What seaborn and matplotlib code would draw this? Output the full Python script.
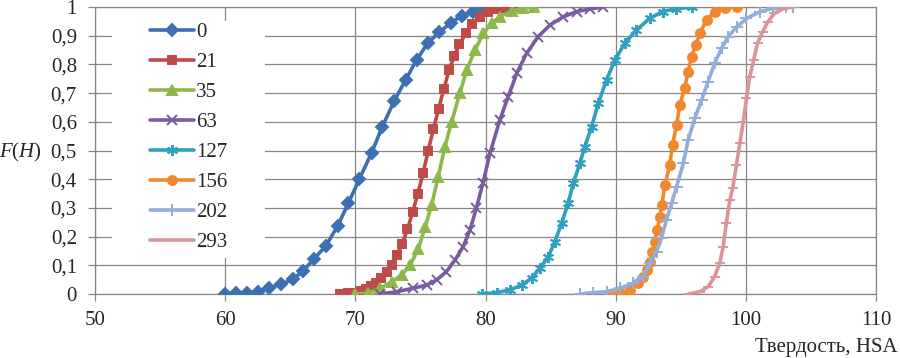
import matplotlib
matplotlib.use("Agg")
import matplotlib.pyplot as plt
import matplotlib.patches as mpatches
import seaborn as sns
import pandas as pd

# ---- data ----
series_names = ["0", "21", "35", "63", "127", "156", "202", "293"]

h_0 = [60.0, 60.8, 61.65, 62.5, 63.4, 64.3, 65.2, 66.0, 66.8, 67.74, 68.64, 69.46, 70.3, 71.25,
       72.07, 73.0, 73.86, 74.7, 75.55, 76.45, 77.34, 78.2, 79.06, 79.9, 80.8]
f_0 = [0.0, 0.002, 0.005, 0.008, 0.022, 0.034, 0.051, 0.081, 0.121, 0.168, 0.237, 0.316, 0.40, 0.492,
       0.583, 0.674, 0.746, 0.815, 0.874, 0.912, 0.945, 0.97, 0.984, 0.995, 1.0]

h_21 = [68.8, 69.4, 69.9, 70.4, 70.8, 71.2, 71.6, 72.0, 72.4, 72.8, 73.2, 73.6, 74.0, 74.4, 74.8,
        75.2, 75.6, 76.0, 76.4, 76.8, 77.2, 77.6, 78.0, 78.5, 79.0, 79.6, 80.2, 80.9, 81.6, 82.4]
f_21 = [0.0, 0.002, 0.005, 0.01, 0.018, 0.028, 0.04, 0.055, 0.075, 0.1, 0.135, 0.175, 0.225, 0.285, 0.35,
        0.42, 0.5, 0.575, 0.645, 0.715, 0.78, 0.83, 0.87, 0.91, 0.94, 0.965, 0.982, 0.993, 0.998, 1.0]

h_35 = [70.0, 71.0, 71.9, 72.8, 73.55, 74.2, 74.83, 75.35, 75.86, 76.37, 76.88, 77.4, 78.03, 78.55,
        79.19, 79.83, 80.47, 81.1, 82.0, 82.9, 83.7]
f_35 = [0.0, 0.003, 0.02, 0.043, 0.066, 0.10, 0.156, 0.232, 0.31, 0.409, 0.513, 0.60, 0.70, 0.78,
        0.85, 0.908, 0.943, 0.966, 0.986, 0.997, 1.0]

h_63 = [71.9, 73.17, 74.45, 75.48, 76.24, 77.0, 77.65, 78.29, 78.8, 79.3, 79.8, 80.34, 81.1, 81.74,
        82.4, 83.16, 84.05, 84.95, 85.97, 87.0, 88.0, 89.04]
f_63 = [0.0, 0.008, 0.02, 0.031, 0.049, 0.078, 0.118, 0.165, 0.223, 0.299, 0.386, 0.49, 0.606, 0.687,
        0.769, 0.839, 0.897, 0.937, 0.966, 0.984, 0.993, 1.0]

h_127 = [79.7, 80.85, 81.87, 82.77, 83.54, 84.18, 84.82, 85.33, 85.84, 86.35, 86.74, 87.25, 87.63,
         88.15, 88.66, 89.3, 89.94, 90.7, 91.6, 92.6, 93.6, 94.6, 95.9]
f_127 = [0.0, 0.005, 0.014, 0.031, 0.055, 0.09, 0.13, 0.182, 0.246, 0.316, 0.386, 0.455, 0.513,
         0.583, 0.664, 0.746, 0.815, 0.874, 0.92, 0.96, 0.984, 0.994, 1.0]

h_156 = [89.55, 90.3, 91.1, 91.73, 92.1, 92.37, 92.63, 92.83, 93.0, 93.2, 93.4, 93.55, 93.78, 94.16,
         94.37, 94.68, 94.93, 95.3, 95.57, 95.83, 96.16, 96.47, 96.98, 97.6, 98.4, 99.3]
f_156 = [0.0, 0.002, 0.014, 0.037, 0.06, 0.084, 0.113, 0.147, 0.182, 0.223, 0.27, 0.31, 0.38, 0.45,
         0.52, 0.589, 0.659, 0.717, 0.775, 0.827, 0.868, 0.908, 0.955, 0.984, 0.995, 1.0]

h_202 = [87.25, 88.27, 89.3, 90.32, 91.35, 92.1, 92.63, 93.14, 93.52, 93.9, 94.3, 94.68, 95.2, 95.57,
         96.08, 96.6, 97.1, 97.6, 98.14, 98.65, 99.3, 100.05, 101.1, 102.1, 103.1, 103.6]
f_202 = [0.0, 0.005, 0.008, 0.02, 0.037, 0.06, 0.107, 0.147, 0.194, 0.258, 0.316, 0.374, 0.455, 0.537,
         0.612, 0.676, 0.74, 0.804, 0.856, 0.897, 0.931, 0.96, 0.984, 0.995, 0.999, 1.0]

h_293 = [95.57, 96.47, 97.1, 97.6, 98.0, 98.26, 98.5, 98.77, 99.0, 99.28, 99.54, 99.8, 100.05, 100.3,
         100.6, 100.9, 101.3, 101.7, 102.2, 102.87, 103.6]
f_293 = [0.0, 0.008, 0.025, 0.06, 0.107, 0.165, 0.246, 0.327, 0.37, 0.45, 0.525, 0.60, 0.682, 0.757,
         0.815, 0.874, 0.914, 0.949, 0.978, 0.994, 1.0]

x_ticks = [50, 60, 70, 80, 90, 100, 110]
y_ticks = [0, 0.1, 0.2, 0.3, 0.4, 0.5, 0.6, 0.7, 0.8, 0.9, 1.0]
y_tick_labels = ["0", "0,1", "0,2", "0,3", "0,4", "0,5", "0,6", "0,7", "0,8", "0,9", "1"]

all_h = [h_0, h_21, h_35, h_63, h_127, h_156, h_202, h_293]
all_f = [f_0, f_21, f_35, f_63, f_127, f_156, f_202, f_293]

frames = []
for name, hs, fs in zip(series_names, all_h, all_f):
    frames.append(pd.DataFrame({"H": hs, "F": fs, "series": name}))
df = pd.concat(frames, ignore_index=True)

# ---- styles ----
colors = ["#3D6FB3", "#BE4B48", "#8FB84C", "#7A5C9E", "#2FA0BF", "#F0892E", "#94ADD9", "#D9959A"]
markers = ["D", "s", "^", "x", (6, 2, 0), "o", "+", "_"]
msizes = [6, 5.5, 7, 7, 8, 6.5, 8, 7]

sns.set_style("white")
plt.rcParams["font.family"] = ["Liberation Serif", "DejaVu Serif"]
plt.rcParams["mathtext.fontset"] = "custom"
plt.rcParams["mathtext.rm"] = "Liberation Serif"
plt.rcParams["mathtext.it"] = "Liberation Serif:italic"

FS = 15

fig = plt.figure(figsize=(9.0, 3.58), dpi=100)
ax = fig.add_axes([0.1056, 0.1788, 0.8677, 0.8016])

grid_c = "#878787"
for name, c, m, ms in zip(series_names, colors, markers, msizes):
    sub = df[df["series"] == name]
    sns.lineplot(data=sub, x="H", y="F", ax=ax, color=c, lw=2.6, marker=m, markersize=ms,
                 markeredgecolor=c, markerfacecolor=c, markeredgewidth=1.4,
                 sort=False, estimator=None, label=name, zorder=3)

ax.set_xlim(50, 110)
ax.set_ylim(0, 1)
ax.set_xticks(x_ticks)
ax.set_xticklabels([str(v) for v in x_ticks])
ax.set_yticks(y_ticks)
ax.set_yticklabels(y_tick_labels)
ax.set_xlabel("")
ax.set_ylabel("")
ax.grid(True, color=grid_c, lw=0.9)
ax.set_axisbelow(True)
for s in ax.spines.values():
    s.set_color(grid_c)
    s.set_linewidth(0.9)
ax.tick_params(axis="both", which="major", labelsize=FS, length=5, width=0.9, color=grid_c,
               direction="out", left=True, bottom=True)
ax.tick_params(axis="y", pad=8)
ax.tick_params(axis="x", pad=7)

# white box behind legend (covers gridlines)
ax.add_patch(mpatches.Rectangle((0.0218, 0.125), 0.196, 0.826, transform=ax.transAxes,
                                facecolor="white", edgecolor="none", zorder=1))

leg = ax.legend(loc="upper left", bbox_to_anchor=(0.0704, 0.945), frameon=False, fontsize=FS,
                handlelength=2.1, handletextpad=0.1, labelspacing=0.5, borderpad=0,
                borderaxespad=0, numpoints=1)
leg.set_zorder(5)

fig.text(0.023, 0.575, r"$F\mathrm{(}H\mathrm{)}$", fontsize=FS, ha="center", va="center")
fig.text(0.997, 0.03, "Твердость, HSA", fontsize=FS, ha="right", va="center")

fig.savefig("out.png", dpi=100, facecolor="white")
